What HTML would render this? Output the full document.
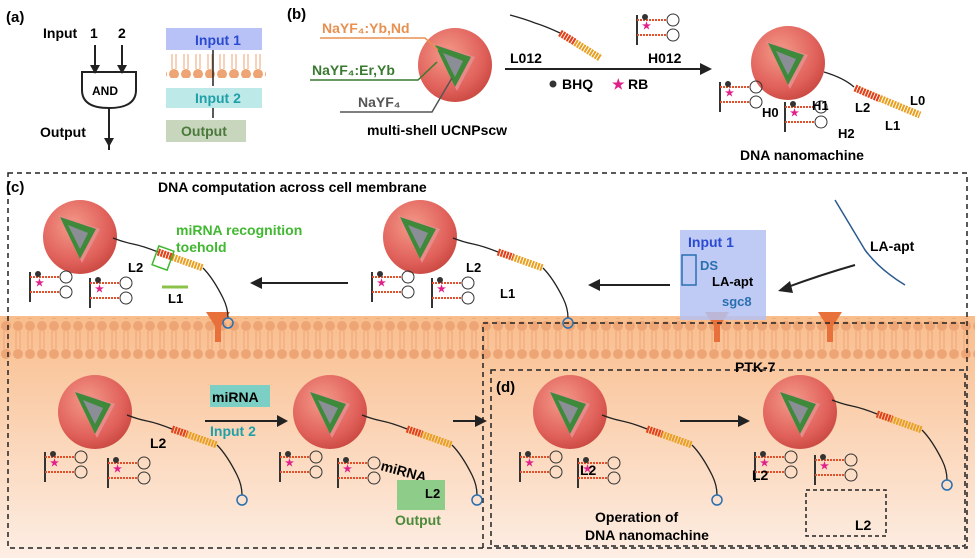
<!DOCTYPE html>
<html><head><meta charset="utf-8"><style>
html,body{margin:0;padding:0;background:#fff}
svg{display:block}
text{font-family:"Liberation Sans",sans-serif;font-weight:bold}
</style></head><body>
<svg width="975" height="558" viewBox="0 0 975 558" xmlns="http://www.w3.org/2000/svg">
<defs>
<radialGradient id="sph" cx="0.4" cy="0.35" r="0.7"><stop offset="0" stop-color="#f49a8a"/><stop offset="0.7" stop-color="#e0605a"/><stop offset="1" stop-color="#c84840"/></radialGradient>
<linearGradient id="bg" x1="0" y1="0" x2="0" y2="1"><stop offset="0" stop-color="#f9bd8c"/><stop offset="1" stop-color="#fdeee4"/></linearGradient>
<pattern id="lip" width="12" height="40" patternUnits="userSpaceOnUse"><circle cx="6" cy="6" r="5" fill="#eea575"/><circle cx="6" cy="34" r="5" fill="#eea575"/><line x1="4" y1="11" x2="4" y2="29" stroke="#eea575"/><line x1="8" y1="11" x2="8" y2="29" stroke="#eea575"/></pattern>
<g id="np">
<circle r="37" fill="url(#sph)"/>
<path d="M-22,-22 L20,-8 L2,26 Z" fill="#e88a8a"/>
<path d="M-20,-20 L16,-8 L0,22 Z" fill="#3f8a3a"/>
<path d="M-12,-12 L8,-4 L0,12 Z" fill="#8b8e96"/>
</g>
<g id="hp" fill="none" stroke-width="2">
<line x1="0" y1="0" x2="0" y2="30" stroke="#333"/>
<line x1="0" y1="5" x2="30" y2="5" stroke="#e0502a" stroke-dasharray="2 1"/>
<line x1="0" y1="20" x2="30" y2="20" stroke="#e0502a" stroke-dasharray="2 1"/>
<ellipse cx="36" cy="5" rx="6" ry="6" stroke="#333" stroke-width="1"/>
<ellipse cx="36" cy="20" rx="6" ry="6" stroke="#333" stroke-width="1"/>
<circle cx="8" cy="2" r="3" fill="#333" stroke="none"/>
<text x="5" y="14" font-size="10" fill="#e0208a" stroke="none">★</text>
</g>
<g id="strand" fill="none">
<path d="M0,0 q10,4 20,6 q10,2 25,8" stroke="#222" stroke-width="1.3"/>
<line x1="45" y1="14" x2="90" y2="30" stroke="#e8a020" stroke-width="7" stroke-dasharray="2 1"/>
<line x1="45" y1="14" x2="60" y2="19" stroke="#e04020" stroke-width="7" stroke-dasharray="2 1"/>
<path d="M90,30 q10,10 20,30 q5,10 5,20" stroke="#222" stroke-width="1.3"/>
<ellipse cx="115" cy="85" rx="5" ry="5" stroke="#2a70b0" stroke-width="1.5"/>
</g>
</defs>
<rect x="0" y="316" width="975" height="242" fill="url(#bg)"/>
<rect x="0" y="318" width="975" height="42" fill="url(#lip)"/>
<g fill="#e8703a"><path d="M206,312 L230,312 L221,326 L221,342 L215,342 L215,326Z"/><path d="M705,312 L729,312 L720,326 L720,342 L714,342 L714,326Z"/><path d="M818,312 L842,312 L833,326 L833,342 L827,342 L827,326Z"/></g>
<rect x="8" y="173" width="959" height="375" fill="none" stroke="#222" stroke-width="1.5" stroke-dasharray="5 4"/>
<path d="M483,548 L483,323 L967,323" fill="none" stroke="#222" stroke-width="1.5" stroke-dasharray="5 4"/>
<rect x="491" y="370" width="474" height="176" fill="none" stroke="#222" stroke-width="1.5" stroke-dasharray="5 4"/>
<!-- panel a -->
<text x="6" y="22" font-size="15">(a)</text>
<text x="43" y="38" font-size="14">Input</text><text x="90" y="38" font-size="14">1</text><text x="118" y="38" font-size="14">2</text>
<g stroke="#222" stroke-width="2" fill="none">
<line x1="95" y1="45" x2="95" y2="72"/><line x1="122" y1="45" x2="122" y2="72"/>
<path d="M82,72 L136,72 L136,90 Q136,108 109,108 Q82,108 82,90 Z" fill="#fff"/>
<line x1="109" y1="108" x2="109" y2="150"/></g>
<g fill="#222"><path d="M90,65 L100,65 L95,74Z"/><path d="M117,65 L127,65 L122,74Z"/><path d="M104,138 L114,138 L109,147Z"/></g>
<text x="92" y="95" font-size="12">AND</text>
<text x="40" y="137" font-size="14">Output</text>
<rect x="166" y="28" width="96" height="22" fill="#b9c2f6"/><text x="195" y="45" font-size="14" fill="#2a4ad0">Input 1</text>
<rect x="166" y="54" width="100" height="24" fill="url(#lip)"/>
<rect x="166" y="88" width="96" height="20" fill="#bde9e8"/><text x="195" y="103" font-size="14" fill="#20a0a8">Input 2</text>
<rect x="166" y="120" width="80" height="22" fill="#c9d6be"/><text x="181" y="136" font-size="14" fill="#4a7a3a">Output</text>
<g stroke="#222" stroke-width="1.5"><line x1="213" y1="50" x2="213" y2="86"/><line x1="213" y1="108" x2="213" y2="118"/></g>
<!-- panel b -->
<text x="287" y="19" font-size="15">(b)</text>
<use href="#np" x="455" y="65"/>
<text x="322" y="33" font-size="14" fill="#e89050">NaYF₄:Yb,Nd</text>
<polyline points="320,38 425,38 438,50" fill="none" stroke="#e89050" stroke-width="1.5"/>
<text x="312" y="75" font-size="14" fill="#3a7a30">NaYF₄:Er,Yb</text>
<polyline points="310,80 418,80 437,62" fill="none" stroke="#3a7a30" stroke-width="1.5"/>
<text x="358" y="107" font-size="14" fill="#555">NaYF₄</text>
<polyline points="340,112 432,112 452,78" fill="none" stroke="#555" stroke-width="1.5"/>
<text x="367" y="135" font-size="14">multi-shell UCNPscw</text>
<line x1="505" y1="69" x2="700" y2="69" stroke="#222" stroke-width="2"/><path d="M700,63 L712,69 L700,75Z" fill="#222"/>
<text x="510" y="63" font-size="14">L012</text><text x="648" y="63" font-size="14">H012</text>
<circle cx="553" cy="84" r="3.5" fill="#333"/><text x="562" y="89" font-size="14">BHQ</text>
<text x="612" y="89" font-size="14" fill="#e0208a">★</text><text x="628" y="89" font-size="14">RB</text>
<path d="M510,15 q15,4 25,8 q10,3 25,10" fill="none" stroke="#222" stroke-width="1.3"/>
<line x1="560" y1="33" x2="600" y2="58" stroke="#e8a020" stroke-width="7" stroke-dasharray="2 1"/>
<line x1="560" y1="33" x2="575" y2="42" stroke="#e04020" stroke-width="7" stroke-dasharray="2 1"/>
<use href="#hp" x="637" y="15"/>
<use href="#np" x="788" y="63"/>
<path d="M824,72 q20,6 30,15" fill="none" stroke="#222" stroke-width="1.3"/>
<line x1="855" y1="88" x2="920" y2="115" stroke="#e8a020" stroke-width="7" stroke-dasharray="2 1"/>
<line x1="855" y1="88" x2="880" y2="99" stroke="#e04020" stroke-width="7" stroke-dasharray="2 1"/>
<use href="#hp" x="720" y="82"/>
<use href="#hp" x="785" y="102"/>
<text x="855" y="112" font-size="13">L2</text><text x="885" y="130" font-size="13">L1</text><text x="910" y="105" font-size="13">L0</text>
<text x="762" y="117" font-size="13">H0</text><text x="812" y="110" font-size="13">H1</text><text x="838" y="138" font-size="13">H2</text>
<text x="740" y="160" font-size="14">DNA nanomachine</text>
<!-- panel c -->
<text x="6" y="192" font-size="15">(c)</text>
<text x="158" y="192" font-size="14">DNA computation across cell membrane</text>
<use href="#np" x="80" y="237"/><use href="#strand" x="113" y="238"/><use href="#hp" x="30" y="272"/><use href="#hp" x="90" y="278"/>
<text x="176" y="235" font-size="14" fill="#40b830">miRNA recognition</text><text x="176" y="252" font-size="14" fill="#40b830">toehold</text>
<rect x="155" y="248" width="16" height="20" fill="none" stroke="#40b830" stroke-width="1.5" transform="rotate(20 163 258)"/>
<text x="128" y="272" font-size="13">L2</text><text x="168" y="303" font-size="13">L1</text>
<line x1="162" y1="287" x2="188" y2="287" stroke="#8bc34a" stroke-width="3"/>
<line x1="348" y1="283" x2="262" y2="283" stroke="#222" stroke-width="2"/><path d="M262,277 L250,283 L262,289Z" fill="#222"/>
<use href="#np" x="420" y="237"/><use href="#strand" x="453" y="238"/><use href="#hp" x="372" y="272"/><use href="#hp" x="432" y="278"/>
<text x="466" y="272" font-size="13">L2</text><text x="500" y="298" font-size="13">L1</text>
<line x1="670" y1="285" x2="600" y2="285" stroke="#222" stroke-width="2"/><path d="M600,279 L588,285 L600,291Z" fill="#222"/>
<rect x="680" y="230" width="86" height="90" fill="#b4c2f3" opacity="0.85"/>
<text x="688" y="247" font-size="14" fill="#2a4ad0">Input 1</text>
<rect x="682" y="255" width="14" height="30" fill="none" stroke="#2a70b0" stroke-width="1.5"/>
<text x="712" y="286" font-size="13">LA-apt</text><text x="722" y="306" font-size="13" fill="#2a70b0">sgc8</text>
<text x="700" y="270" font-size="13" fill="#2a70b0">DS</text>
<path d="M855,265 Q820,275 785,288" fill="none" stroke="#222" stroke-width="2"/><path d="M790,281 L778,291 L793,293Z" fill="#222"/>
<text x="870" y="251" font-size="14">LA-apt</text>
<path d="M835,200 L865,250 Q880,270 905,285" fill="none" stroke="#2a5a90" stroke-width="1.5"/>
<text x="735" y="372" font-size="14">PTK-7</text>
<!-- bottom row -->
<use href="#np" x="95" y="412"/><use href="#strand" x="127" y="415"/><use href="#hp" x="45" y="452"/><use href="#hp" x="108" y="458"/>
<text x="150" y="448" font-size="14">L2</text>
<rect x="210" y="385" width="60" height="22" fill="#7ccfc5"/><text x="212" y="402" font-size="14">miRNA</text>
<text x="210" y="436" font-size="14" fill="#20a0a8">Input 2</text>
<line x1="205" y1="421" x2="277" y2="421" stroke="#222" stroke-width="2"/><path d="M277,415 L288,421 L277,427Z" fill="#222"/>
<use href="#np" x="330" y="412"/><use href="#strand" x="362" y="415"/><use href="#hp" x="280" y="452"/><use href="#hp" x="338" y="458"/>
<text x="380" y="470" font-size="14" transform="rotate(15 380 470)">miRNA</text>
<rect x="397" y="480" width="48" height="30" fill="#8ecc8a"/><text x="425" y="498" font-size="13">L2</text>
<text x="395" y="525" font-size="14" fill="#4a8a3a">Output</text>
<line x1="453" y1="421" x2="475" y2="421" stroke="#222" stroke-width="2"/><path d="M475,415 L487,421 L475,427Z" fill="#222"/>
<text x="496" y="392" font-size="15">(d)</text>
<use href="#np" x="570" y="412"/><use href="#strand" x="602" y="415"/><use href="#hp" x="520" y="452"/><use href="#hp" x="578" y="458"/>
<text x="580" y="475" font-size="14">L2</text>
<line x1="680" y1="421" x2="738" y2="421" stroke="#222" stroke-width="2"/><path d="M738,415 L750,421 L738,427Z" fill="#222"/>
<use href="#np" x="800" y="412"/><use href="#strand" x="832" y="400"/><use href="#hp" x="755" y="452"/><use href="#hp" x="815" y="455"/>
<text x="752" y="480" font-size="14">L2</text>
<rect x="806" y="490" width="80" height="46" fill="none" stroke="#222" stroke-width="1.5" stroke-dasharray="4 3"/>
<text x="855" y="530" font-size="14">L2</text>
<text x="595" y="522" font-size="14">Operation of</text><text x="585" y="540" font-size="14">DNA nanomachine</text>
</svg>
</body></html>
